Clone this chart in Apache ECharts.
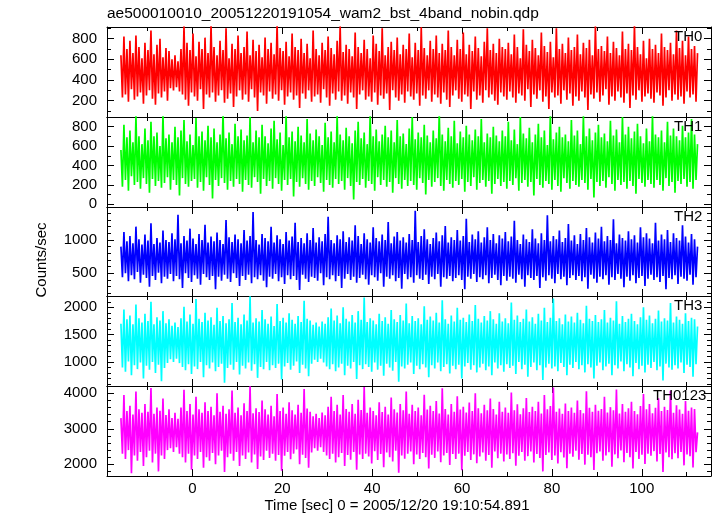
<!DOCTYPE html>
<html><head><meta charset="utf-8">
<script src="https://cdn.jsdelivr.net/npm/echarts@6/dist/echarts.min.js"></script>
<style>html,body{margin:0;padding:0;background:#fff}#c{width:717px;height:516px}</style>
</head><body><div id="c"></div>
<script>
const TITLE = "ae500010010_20051220191054_wam2_bst_4band_nobin.qdp";
const X_NAME = "Time [sec] 0 = 2005/12/20 19:10:54.891";
const Y_NAME = "Counts/sec";
const BANDS = ["TH0", "TH1", "TH2", "TH3", "TH0123"];
const T_START = -15.9, T_END = 112.4;

const TH0 = [
640,230,820,260,700,190,780,310,660,210,830,240,720,280,610,170,
760,250,690,300,880,220,650,160,740,270,800,230,620,290,710,200,
680,320,600,300,640,330,580,290,700,260,920,210,760,150,690,280,
850,240,630,200,770,310,700,120,810,260,660,230,930,280,720,190,
640,250,780,300,690,180,900,220,610,270,750,140,700,240,830,300,
660,210,720,260,870,190,640,310,790,230,680,100,740,280,620,250,
810,170,700,290,760,220,650,260,940,200,710,300,680,160,770,240,
630,280,850,210,720,250,690,130,800,270,660,220,750,300,610,190,
880,240,700,260,640,180,760,310,690,230,820,150,710,270,650,210,
780,290,920,200,670,250,740,170,700,280,630,230,860,120,720,260,
660,300,790,210,700,240,610,190,830,280,750,160,680,250,900,220,
640,270,720,110,770,300,690,230,810,200,650,260,740,180,700,290,
850,240,620,210,760,270,690,150,910,250,710,220,640,300,780,190,
700,260,830,230,660,170,750,280,690,210,880,140,720,250,640,300,
790,220,700,190,860,260,650,240,740,120,680,290,820,210,710,250,
630,180,770,300,900,230,690,260,750,200,660,160,800,280,720,240,
700,210,760,290,650,230,840,180,720,270,610,250,890,200,740,310,
680,140,790,260,710,220,640,300,860,190,730,240,670,120,770,280,
620,230,900,250,700,170,750,300,660,210,810,270,690,150,720,240,
840,200,650,290,760,230,710,110,790,260,640,220,920,280,700,190,
730,250,680,310,820,160,660,240,770,200,710,290,640,230,870,180,
700,270,750,130,690,250,930,210,720,300,650,190,780,240,610,270,
800,220,700,180,740,280,660,250,850,150,720,230,690,300,760,200,
650,260,880,210,710,240,780,170,640,290,820,230,700,260,730,190,
660];
const TH1 = [
560,180,820,250,690,140,760,290,640,200,910,230,700,160,620,270,
780,210,660,120,850,260,700,190,740,240,600,170,930,220,680,280,
720,150,640,250,800,200,690,90,760,270,870,210,650,180,720,240,
610,260,890,170,700,230,750,140,660,280,810,200,690,60,780,250,
640,190,720,270,950,220,680,150,740,240,620,180,830,260,700,210,
770,130,660,250,710,200,900,170,640,280,760,230,690,110,820,260,
700,190,630,240,780,160,860,270,670,210,740,140,610,250,920,200,
690,260,750,80,650,230,800,180,710,270,640,210,880,150,730,240,
660,190,770,280,700,220,610,130,840,250,690,200,750,170,640,260,
910,210,720,240,660,150,790,270,700,190,630,50,760,230,850,200,
680,260,740,170,620,240,930,210,700,140,770,280,650,200,720,250,
810,180,690,230,760,120,640,270,870,210,700,160,730,250,620,190,
780,240,900,200,670,150,740,270,690,220,820,100,710,250,640,180,
760,230,680,270,940,190,720,140,650,250,790,210,700,170,860,240,
630,200,750,260,690,130,810,230,720,190,660,280,770,150,700,220,
880,250,640,180,730,240,690,110,800,210,710,260,650,190,760,230,
700,160,850,240,660,200,770,270,620,140,900,220,730,250,680,180,
790,230,640,90,720,260,830,200,690,170,760,240,610,210,940,150,
670,250,740,190,800,130,690,270,720,220,650,160,870,240,710,200,
760,180,620,250,910,220,700,150,780,260,660,70,740,230,820,190,
690,240,730,170,650,280,860,210,710,140,770,250,640,200,900,230,
720,160,800,240,680,190,750,110,830,260,700,220,630,180,780,250,
650,210,920,170,720,250,690,200,760,140,640,270,850,190,710,230,
780,120,700,240,660,210,810,260,690,180,740,230,880,160,720,250,
620];
const TH2 = [
900,440,1120,500,980,380,1060,470,950,410,1200,520,1010,360,930,480,
1080,430,990,300,1250,460,940,400,1030,510,960,350,1140,450,1000,420,
970,490,1100,380,1010,460,1380,410,950,280,1060,500,990,430,1170,370,
1020,470,940,420,1090,330,1000,490,1230,440,960,400,1050,460,980,260,
1110,450,1000,390,940,480,1300,420,1040,370,970,500,1080,430,1010,310,
950,460,1150,400,990,480,1060,350,1420,440,1000,410,930,470,1090,390,
1030,290,980,450,1200,420,960,490,1070,380,1010,440,940,340,1120,470,
990,410,1050,460,1260,400,970,250,1030,480,950,420,1100,370,1000,450,
1180,430,960,390,1040,500,980,320,1090,440,1350,410,1000,470,950,380,
1070,460,1010,280,1130,420,970,490,1040,400,990,450,1220,360,1060,430,
940,480,1100,410,1010,330,960,470,1190,440,1030,390,980,500,1080,300,
1000,450,1270,420,950,470,1050,380,1120,430,990,270,1040,490,960,410,
1090,440,1000,360,1440,470,970,420,1060,400,1160,480,1010,340,940,450,
1030,410,1110,490,980,300,1070,440,1210,420,960,460,1040,380,1000,430,
1150,470,990,400,1060,260,1320,450,970,420,1080,490,1010,370,1130,440,
960,410,1040,470,1190,350,1000,430,1090,480,950,400,1070,320,1020,460,
1120,390,980,450,1050,420,1290,360,1000,480,940,410,1080,300,1010,470,
970,430,1160,400,1020,460,950,280,1100,440,1000,390,1370,470,980,420,
1060,350,1010,490,1140,410,970,450,1030,320,1240,430,990,470,1070,400,
940,460,1090,380,1000,440,1180,270,1040,480,960,420,1110,360,1020,450,
1200,410,980,470,1060,330,1000,440,1310,400,950,490,1080,420,1030,290,
990,450,1130,390,1010,470,1070,350,960,430,1190,460,1040,310,1100,420,
1020,480,950,400,1260,440,990,370,1080,460,1010,260,1150,430,970,410,
1100,470,1030,340,990,450,1220,420,1050,390,960,480,1090,330,1010,440,
900];
const TH3 = [
1700,900,1960,820,1780,1010,1850,760,1690,940,2050,870,1800,990,1720,700,
1880,930,1750,860,2100,1000,1690,800,1820,950,1760,650,1930,890,1710,980,
1780,1050,1660,1000,1720,1060,1640,980,1800,910,2010,850,1740,960,1870,780,
1700,920,2150,870,1790,1000,1730,720,1900,940,1760,880,1820,990,1680,830,
1990,910,1750,970,1840,620,1710,890,1780,950,2080,860,1730,1000,1810,770,
1690,930,1870,880,1760,990,2200,840,1720,960,1800,710,1740,910,1950,870,
1780,1000,1700,850,1830,940,1660,890,2060,970,1750,680,1810,920,1720,980,
1890,860,1770,930,1700,1010,1840,800,1730,950,2120,880,1790,740,1760,970,
1680,1040,1720,1000,1650,1060,1740,990,1700,920,1820,870,1980,960,1760,830,
1850,900,1710,970,2000,760,1790,930,1740,880,1860,1000,1720,690,1930,940,
1770,870,2180,960,1730,910,1800,820,1760,990,1690,860,1880,930,1750,750,
1820,970,1700,900,1950,840,1780,1000,1730,640,1860,920,1760,880,2070,950,
1710,990,1840,780,1750,930,1800,870,1690,960,2020,900,1770,720,1830,940,
1760,880,1900,990,1720,830,2130,910,1780,960,1700,790,1850,930,1740,870,
1990,950,1770,700,1810,920,1730,980,1870,860,1750,940,2040,810,1790,900,
1720,970,1840,850,1760,920,1930,760,1780,990,1700,880,1890,940,1740,820,
1800,960,1710,890,2090,930,1770,780,1850,1000,1730,870,1790,950,1960,730,
1740,910,1820,990,1700,850,1880,940,1760,670,1990,900,1730,970,1810,880,
2160,920,1750,830,1800,980,1690,910,1870,760,1740,950,1830,890,1720,1000,
1900,870,1770,940,1710,810,2030,960,1790,900,1750,700,1860,930,1730,990,
1780,850,1950,920,1720,970,1810,760,1760,940,2110,880,1700,1010,1840,830,
1730,960,1790,900,1880,740,1750,980,1690,870,1820,930,2000,810,1770,950,
1850,890,1710,1000,1790,850,1940,920,1740,660,1800,970,1760,900,2080,860,
1720,940,1830,880,1770,990,1700,800,1890,950,1750,910,1810,730,1780,960,
1650];
const TH0123 = [
3300,2300,3950,2150,3500,2400,3650,1750,3400,2250,4050,2100,3550,2350,3450,1950,
3700,2200,3480,2380,4150,2050,3420,2300,3600,1800,3510,2250,3850,2150,3390,2400,
3550,2450,3300,2350,3450,2480,3280,2300,3600,2200,4100,2050,3500,2300,3700,1850,
3400,2250,3900,2150,3550,2350,3450,1900,3750,2200,3500,2100,3620,2320,3380,2000,
4000,2250,3480,2380,3650,1780,3420,2200,3550,2300,4080,2100,3450,2350,3600,1950,
3380,2250,3720,2150,3500,2330,4200,2050,3440,2280,3580,1870,3470,2220,3800,2120,
3550,2380,3400,2180,3650,2300,3350,2100,3980,2260,3500,1820,3600,2240,3420,2350,
3750,2140,3520,2300,3400,2420,3680,2000,3450,2270,4120,2180,3570,1900,3480,2330,
3350,2450,3420,2380,3300,2480,3460,2350,3380,2250,3620,2150,3900,2300,3500,2050,
3680,2200,3400,2320,3950,1950,3560,2260,3480,2130,3700,2350,3420,1850,3820,2280,
3530,2150,4180,2300,3450,2220,3600,2020,3500,2370,3380,2120,3750,2290,3470,1920,
3620,2330,3400,2200,3880,2080,3550,2380,3460,1760,3700,2250,3520,2160,4050,2300,
3420,2360,3680,2000,3500,2280,3600,2150,3380,2320,3960,2200,3540,1880,3650,2270,
3500,2180,3780,2360,3430,2060,4140,2250,3560,2320,3400,1980,3700,2290,3480,2150,
3920,2300,3540,1830,3620,2240,3460,2350,3740,2120,3500,2280,4000,2030,3580,2220,
3440,2330,3680,2100,3520,2260,3850,1900,3560,2360,3400,2170,3760,2300,3480,2080,
3600,2280,3450,2150,4020,2310,3520,1960,3690,2240,3410,2350,3580,2100,3870,2230,
3470,2360,3620,2050,3500,2290,3760,2180,3430,1800,3950,2260,3550,2330,3640,2120,
4160,2250,3480,2020,3570,2340,3420,2190,3710,1890,3500,2300,3600,2210,3450,2380,
3800,2130,3530,2290,3440,1990,4060,2270,3590,2200,3480,1840,3680,2310,3510,2360,
3560,2100,3900,2250,3460,2340,3610,1930,3520,2280,4110,2170,3430,2390,3700,2060,
3480,2320,3580,2200,3760,1880,3500,2350,3410,2150,3640,2270,3980,2010,3550,2300,
3700,2240,3440,2370,3590,2080,3860,2290,3500,1780,3620,2330,3530,2200,4070,2140,
3450,2310,3660,2170,3540,2350,3420,1970,3780,2280,3510,2230,3600,1910,3560,2340,
2900];

const SERIES_VALUES = [TH0, TH1, TH2, TH3, TH0123];
const X_RANGE = [-19, 115.4];
const Y_RANGES = [[42, 913], [-28, 900], [159, 1495], [561, 2207], [1670, 4206]];
const Y_SPLIT = [5, 5, 3, 3, 3];
const Y_MINOR = [2, 2, 5, 5, 5];
const COLORS = ['#ff0000', '#00ff00', '#0000ff', '#00ffff', '#ff00ff'];

// layout
const TOPS = [27, 117, 207, 296, 386];
const HEIGHTS = [90, 90, 89, 90, 90];
const LABEL_X = [674, 674, 674, 674, 653];
const FONT = '"Liberation Sans", Arial, sans-serif';
const FS = 15;

const chart = echarts.init(document.getElementById('c'), null, {renderer: 'canvas'});

const grids = [], xAxes = [], yAxes = [], series = [], graphics = [];
const tickCommon = {
  axisLine: {show: true, onZero: false, lineStyle: {color: '#000', width: 1}},
  axisTick: {show: true, inside: true, length: 7, lineStyle: {color: '#000', width: 1}},
  splitLine: {show: false},
  minorSplitLine: {show: false}
};
const plainNum = v => String(Math.round(v));

for (let i = 0; i < 5; i++) {
  grids.push({left: 107, right: 6, top: TOPS[i], height: HEIGHTS[i], containLabel: false});
  const isBottom = i === 4;
  ['bottom', 'top'].forEach((pos, j) => {
    xAxes.push(Object.assign({}, tickCommon, {
      type: 'value', gridIndex: i, position: pos,
      min: X_RANGE[0], max: X_RANGE[1], splitNumber: 7,
      minorTick: {show: true, splitNumber: 2, length: 4, lineStyle: {color: '#000', width: 1}},
      axisLabel: {show: isBottom && j === 0, fontSize: FS, fontFamily: FONT, color: '#000', margin: 5,
        showMinLabel: false, showMaxLabel: false, formatter: plainNum},
      name: (isBottom && j === 0) ? X_NAME : '',
      nameLocation: 'middle', nameGap: 22,
      nameTextStyle: {fontSize: FS, fontFamily: FONT, color: '#000', padding: [0, 24, 0, 0]}
    }));
  });
  ['left', 'right'].forEach((pos, j) => {
    yAxes.push(Object.assign({}, tickCommon, {
      type: 'value', gridIndex: i, position: pos,
      min: Y_RANGES[i][0], max: Y_RANGES[i][1], splitNumber: Y_SPLIT[i],
      minorTick: {show: true, splitNumber: Y_MINOR[i], length: 4, lineStyle: {color: '#000', width: 1}},
      axisLabel: {show: j === 0, fontSize: FS, fontFamily: FONT, color: '#000', margin: 10,
        showMinLabel: false, showMaxLabel: false, formatter: plainNum}
    }));
  });
  const vals = SERIES_VALUES[i];
  const n = vals.length;
  const data = vals.map((v, k) => [T_START + (T_END - T_START) * k / (n - 1), v]);
  series.push({
    type: 'line', xAxisIndex: 2 * i, yAxisIndex: 2 * i, data: data,
    showSymbol: false, symbol: 'none', silent: true, clip: true, animation: false,
    sampling: null,
    lineStyle: {color: COLORS[i], width: 1.7, join: 'bevel', cap: 'butt'}, itemStyle: {color: COLORS[i]},
    emphasis: {disabled: true}
  });
  graphics.push({
    type: 'text', x: LABEL_X[i], y: TOPS[i] + 2, z: 100,
    style: {text: BANDS[i], font: FS + 'px ' + FONT, fill: '#000',
      align: 'left', verticalAlign: 'top', textAlign: 'left', textVerticalAlign: 'top'}
  });
}
graphics.push({
  type: 'text', x: 41.5, y: 260, rotation: Math.PI / 2, z: 100,
  style: {text: Y_NAME, font: FS + 'px ' + FONT, fill: '#000',
    align: 'center', verticalAlign: 'middle', textAlign: 'center', textVerticalAlign: 'middle'}
});

chart.setOption({
  animation: false,
  backgroundColor: '#fff',
  title: {text: TITLE, left: 107, top: 6, padding: 0,
    textStyle: {fontSize: 15.5, fontWeight: 'normal', fontFamily: FONT, color: '#000'}},
  grid: grids, xAxis: xAxes, yAxis: yAxes, series: series, graphic: graphics
});
</script></body></html>
